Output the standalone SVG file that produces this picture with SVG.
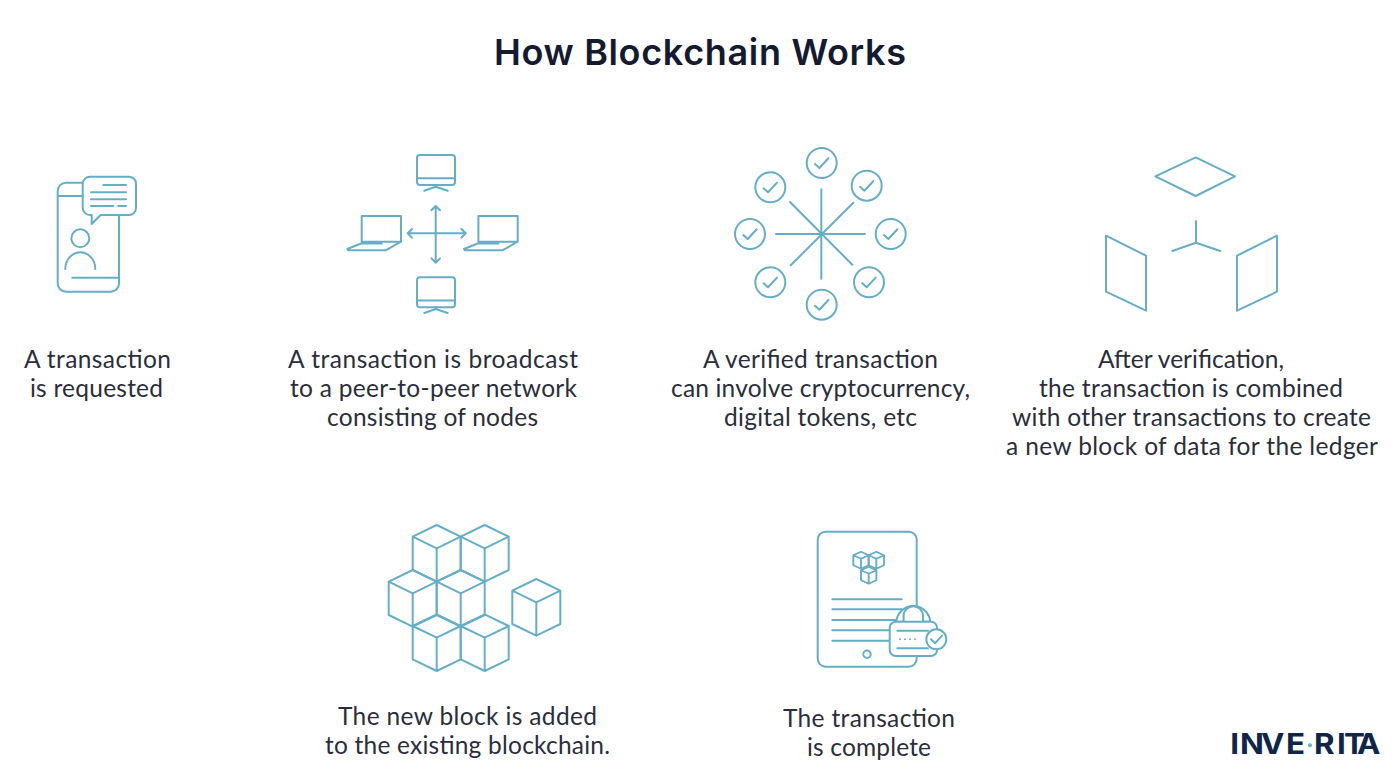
<svg xmlns="http://www.w3.org/2000/svg" width="1400" height="778" viewBox="0 0 1400 778">
<style>
.i{fill:none;stroke:#66aec6;stroke-width:2;stroke-linecap:round;stroke-linejoin:round}
.w{fill:#fff}
text{font-family:"Lato","Noto Sans",sans-serif}
.t{font-size:24.5px;fill:#2a2e3c;font-weight:400}
.h{font-family:"Inter","Liberation Sans",sans-serif;font-size:36px;font-weight:600;fill:#141a30}
.l{font-family:"Inter","Liberation Sans",sans-serif;font-size:28px;font-weight:700;fill:#0f2549}
</style>
<defs>
<path id="cube" d="M0 0L24 11.7L0 23.3L-24 11.7ZM-24 11.7V45L0 56.7L24 45V11.7M0 23.3V56.7"/>
<g id="mon"><rect x="417" y="155" width="38" height="30" rx="3"/><path d="M417 178.3H455M435.7 185V186.7M424.3 190.7L435.7 186.7L447.7 190.7"/></g>
<g id="lap"><path d="M361.7 241.7V216H401V241.7H361.7M361.7 243.3L347.3 249L348.3 250.3H385.7L401 241.7M361.7 243.5H381.7"/></g>
<path id="chk" d="M-6.7 1L-2.3 5L6.7-4.7"/>
<g id="cc"><circle r="15"/><use href="#chk"/></g>
</defs>
<rect width="1400" height="778" fill="#fff"/>
<text id="title" class="h" x="494" y="65" textLength="412">How Blockchain Works</text>

<g id="step-request">
<g class="i">
<path d="M82.7 182.7H66A8.3 8.3 0 0 0 57.7 191V283.4A8.3 8.3 0 0 0 66 291.7H110.7A8.3 8.3 0 0 0 119 283.4V215M57.7 196H82.7"/>
<path d="M90 176.7H129A7 7 0 0 1 136 183.7V208A7 7 0 0 1 129 215H100.7L91.7 224V215H90A7.3 7.3 0 0 1 82.7 207.7V184A7.3 7.3 0 0 1 90 176.7Z"/>
<path d="M103.3 185H126M91 192.3H126M91 199.3H126M91 206H113.3M118.3 206H126M72.3 277.7H119"/>
<circle cx="80.3" cy="238.3" r="9"/>
<path d="M65.3 269A15 16.7 0 0 1 95.3 269"/>
</g>
<text class="t" x="24" y="367.5" textLength="147">A transaction</text>
<text class="t" x="30" y="396.5" textLength="133">is requested</text>
</g>

<g id="step-broadcast">
<g class="i">
<use href="#mon"/><use href="#mon" y="122.3"/>
<use href="#lap"/><use href="#lap" x="116.7"/>
<path d="M407.7 233.3H465.7M435.7 206V262.7M412 229L407.7 233.3L412 237.6M461.4 229L465.7 233.3L461.4 237.6M431.4 210.3L435.7 206L440 210.3M431.4 258.4L435.7 262.7L440 258.4"/>
</g>
<text class="t" x="288" y="367.5" textLength="290">A transaction is broadcast</text>
<text class="t" x="290" y="396.5" textLength="287">to a peer-to-peer network</text>
<text class="t" x="327" y="425.5" textLength="211">consisting of nodes</text>
</g>

<g id="step-verified">
<g class="i">
<path d="M821.3 189.3V278.7M776 234H865M790 202L852.3 264.7M853.3 202.7L790.7 265.3"/>
<use href="#cc" x="821.7" y="163"/><use href="#cc" x="770.3" y="187.3"/><use href="#cc" x="866.7" y="185.7"/><use href="#cc" x="750" y="234"/><use href="#cc" x="890.7" y="234"/><use href="#cc" x="770.3" y="282.3"/><use href="#cc" x="869" y="282.3"/><use href="#cc" x="821.7" y="304.7"/>
</g>
<text class="t" x="703" y="367.5" textLength="235">A verified transaction</text>
<text class="t" x="671" y="396.5" textLength="299">can involve cryptocurrency,</text>
<text class="t" x="724" y="425.5" textLength="193">digital tokens, etc</text>
</g>

<g id="step-combined">
<g class="i">
<path d="M1195.7 157.3L1235 176.3L1195.7 196L1155.3 176.3Z"/>
<path d="M1196 221V242.7M1172.3 251L1196 242.7L1220.3 251"/>
<path d="M1106 235.7L1146 255.7V310.7L1106 291.7Z"/>
<path d="M1277 235.7L1237 255.7V310.7L1277 291.7Z"/>
</g>
<text class="t" x="1098" y="367.5" textLength="186">After verification,</text>
<text class="t" x="1039" y="396.5" textLength="304">the transaction is combined</text>
<text class="t" x="1012" y="425.5" textLength="359">with other transactions to create</text>
<text class="t" x="1006" y="454.5" textLength="372">a new block of data for the ledger</text>
</g>

<g id="step-block">
<g class="i">
<use href="#cube" x="436.7" y="525"/><use href="#cube" x="484.7" y="525"/>
<use href="#cube" x="412.7" y="570"/><use href="#cube" x="460.7" y="570"/>
<use href="#cube" x="436.7" y="614.3"/><use href="#cube" x="484.7" y="614.3"/>
<use href="#cube" x="536.3" y="579"/>
</g>
<text class="t" x="338" y="724.5" textLength="259">The new block is added</text>
<text class="t" x="325" y="753.5" textLength="285">to the existing blockchain.</text>
</g>

<g id="step-complete">
<g class="i">
<rect x="817.7" y="531.7" width="99" height="135" rx="8"/>
<use href="#cube" stroke-width="6" transform="translate(861 551.7) scale(.32 .3)"/>
<use href="#cube" stroke-width="6" transform="translate(876.3 551.7) scale(.32 .3)"/>
<use href="#cube" stroke-width="6" transform="translate(868.7 566.7) scale(.32 .3)"/>
<path d="M832.3 599.3H901.7M832.3 609.3H901.7M832.3 620H901.7M832.3 630.3H889.7M832.3 640.7H889.7"/>
<circle cx="867" cy="654.3" r="3.7"/>
<path class="w" d="M896.3 621.7V623A17 17 0 0 1 930.3 623V621.7Z"/>
<path class="w" d="M903.6 621.7V616A9.7 9.7 0 0 1 923 616V621.7"/>
<rect class="w" x="889.7" y="621.7" width="47.3" height="34.3" rx="6"/>
<path d="M897.3 630.7H928M897.3 648.3H928"/>
<path d="M900 639.3H918" stroke-dasharray="0 5"/>
<circle class="w" cx="936.3" cy="639.3" r="10"/>
<path d="M931 639.3L935 643.3L942 635.6"/>
</g>
<text class="t" x="783" y="726.5" textLength="172">The transaction</text>
<text class="t" x="807" y="755.5" textLength="124">is complete</text>
</g>

<g id="logo">
<text class="l" transform="translate(1230 0) scale(1.12 1)" x="0.2 8.9 27.7 50 75 95.5 101.8 113.4" y="754">INVERITA</text>
<circle cx="1310" cy="745.3" r="2" fill="#5fb3cf"/>
</g>
</svg>
